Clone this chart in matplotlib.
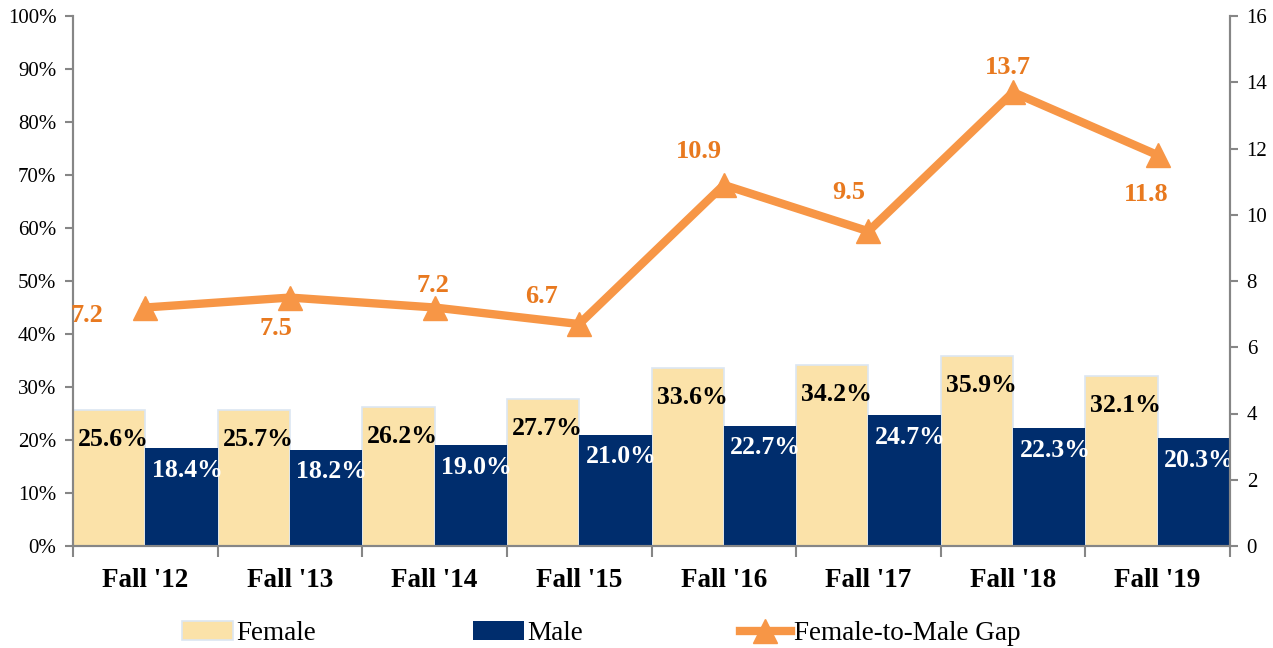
import matplotlib.pyplot as plt
import numpy as np

plt.rcParams['font.family'] = ['Liberation Serif', 'DejaVu Serif']

semestres = ["Fall '12", "Fall '13", "Fall '14", "Fall '15",
             "Fall '16", "Fall '17", "Fall '18", "Fall '19"]
mujeres = [25.6, 25.7, 26.2, 27.7, 33.6, 34.2, 35.9, 32.1]
hombres = [18.4, 18.2, 19.0, 21.0, 22.7, 24.7, 22.3, 20.3]
brecha = [7.2, 7.5, 7.2, 6.7, 10.9, 9.5, 13.7, 11.8]

# desplazamiento de las etiquetas de la brecha (puntos)
desp_brecha = [(-42, -6), (-10, -22), (-1, 16), (-27, 20),
               (-18, 24), (-14, 28), (-4, 18), (-8, -28)]

c_mujer = '#FBE2A9'
c_hombre = '#002D6D'
c_linea = '#F79646'
c_texto_linea = '#E8791F'
c_eje = '#868686'

fig = plt.figure(figsize=(12.73, 6.48), dpi=100)
ax = fig.add_axes([73 / 1273, 1 - 546 / 648, (1230 - 73) / 1273, (546 - 16) / 648])
ax2 = ax.twinx()

x = np.arange(len(semestres))
w = 0.5
b1 = ax.bar(x - w / 2, mujeres, w, color=c_mujer, edgecolor='#DCE6F2', linewidth=1.2,
            label='Female', zorder=2)
b2 = ax.bar(x + w / 2, hombres, w, color=c_hombre, edgecolor=c_hombre, linewidth=0,
            label='Male', zorder=2)

for xi, v in zip(x, mujeres):
    ax.text(xi - w / 2 + 0.03, v - 5.6, f'{v:.1f}%', ha='center', va='center',
            fontsize=18.5, fontweight='bold', color='black', zorder=5)
for xi, v in zip(x, hombres):
    ax.text(xi + w / 2 + 0.04, v - 4.2, f'{v:.1f}%', ha='center', va='center',
            fontsize=18.5, fontweight='bold', color='white', zorder=5)

l1, = ax2.plot(x, brecha, color=c_linea, linewidth=6, marker='^', markersize=17,
               label='Female-to-Male Gap', zorder=4)
for xi, v, d in zip(x, brecha, desp_brecha):
    ax2.annotate(f'{v:.1f}', (xi, v), xytext=d, textcoords='offset points',
                 ha='center', va='center', fontsize=19, fontweight='bold',
                 color=c_texto_linea)

ax.set_xlim(-0.5, len(semestres) - 0.5)
ax.set_ylim(0, 100)
ax2.set_ylim(0, 16)
ax.set_yticks(np.arange(0, 101, 10))
ax.set_yticklabels([f'{t}%' for t in range(0, 101, 10)])
ax2.set_yticks(np.arange(0, 17, 2))

ax.set_xticks(x)
ax.set_xticklabels(semestres, fontsize=19.5, fontweight='bold')
ax.set_xticks(np.arange(-0.5, len(semestres)), minor=True)
ax.tick_params(axis='x', which='major', length=0, pad=16)
ax.tick_params(axis='x', which='minor', length=8, width=1.5, color=c_eje, direction='out')
ax.tick_params(axis='y', labelsize=15, length=6, width=1.5, color=c_eje, pad=6)
ax2.tick_params(axis='y', labelsize=15, length=6, width=1.5, color=c_eje, pad=6)

for a in (ax, ax2):
    a.spines['top'].set_visible(False)
    for s in ('left', 'right', 'bottom'):
        a.spines[s].set_color(c_eje)
        a.spines[s].set_linewidth(1.5)
ax2.set_zorder(ax.get_zorder() + 1)
ax2.patch.set_visible(False)

fig.legend([b1, b2, l1], ['Female', 'Male', 'Female-to-Male Gap'],
           loc='center', bbox_to_anchor=(601 / 1273, 0.022), ncol=3, frameon=False,
           fontsize=19.5, handlelength=1.9, handletextpad=0.1, columnspacing=5.8)

fig.savefig('out.png', dpi=100)
